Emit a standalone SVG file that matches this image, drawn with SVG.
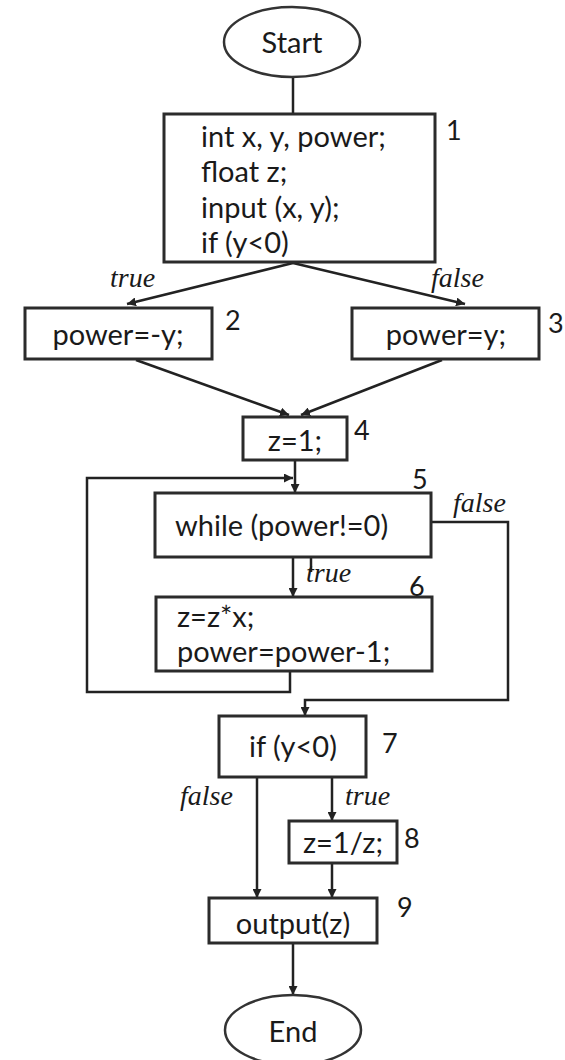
<svg xmlns="http://www.w3.org/2000/svg" width="565" height="1060" viewBox="0 0 565 1060">
<defs>
<marker id="ah" viewBox="0 0 10 10" refX="10" refY="5" markerWidth="9" markerHeight="9" markerUnits="userSpaceOnUse" orient="auto">
<path d="M0,0 L10,5 L0,10 Z" fill="#222"/>
</marker>
<style>
.box{fill:#fff;stroke:#2b2b2b;stroke-width:3}
.ell{fill:#fff;stroke:#333;stroke-width:2.5}
.t{font-family:Lato,"Open Sans",sans-serif;font-size:29px;fill:#1a1a1a}
.n{font-family:Lato,"Open Sans",sans-serif;font-size:27px;fill:#1a1a1a}
.lb{font-family:"Liberation Serif",serif;font-style:italic;font-size:28px;fill:#1a1a1a}
.c{fill:none;stroke:#222;stroke-width:2.5}
.ca{fill:none;stroke:#222;stroke-width:2.5;marker-end:url(#ah)}
</style>
</defs>
<rect width="565" height="1060" fill="#fff"/>
<g id="connectors">
<line class="c" x1="293" y1="77" x2="293" y2="114"/>
<line class="ca" x1="293" y1="263" x2="127" y2="304"/>
<line class="ca" x1="293" y1="263" x2="465" y2="304"/>
<line class="ca" x1="136" y1="360" x2="289" y2="415"/>
<line class="ca" x1="442" y1="360" x2="301" y2="415"/>
<line class="ca" x1="295" y1="460" x2="295" y2="493"/>
<polyline class="ca" points="290,671 290,692 87,692 87,478 293,478"/>
<line class="ca" x1="293" y1="557" x2="293" y2="597"/>
<line class="c" x1="311" y1="551" x2="311" y2="572"/>
<polyline class="ca" points="431,522 508,522 508,700 305,700 305,716"/>
<line class="ca" x1="257" y1="777" x2="257" y2="898"/>
<line class="ca" x1="332" y1="777" x2="332" y2="821"/>
<line class="ca" x1="332" y1="863" x2="332" y2="898"/>
<line class="ca" x1="293" y1="943" x2="293" y2="995"/>
</g>
<g id="start">
<ellipse class="ell" cx="292" cy="42" rx="68" ry="35"/>
<text class="t" x="292" y="53" text-anchor="middle">Start</text>
</g>
<g id="node1">
<rect class="box" x="164" y="114" width="271" height="148"/>
<text class="t" x="201" y="147">int x, y, power;</text>
<text class="t" x="201" y="182">float z;</text>
<text class="t" x="201" y="218">input (x, y);</text>
<text class="t" x="201" y="253">if (y&lt;0)</text>
<text class="n" x="446" y="140">1</text>
</g>
<g id="lbl-true1"><text class="lb" x="110" y="287">true</text></g>
<g id="lbl-false1"><text class="lb" x="431" y="287">false</text></g>
<g id="node2">
<rect class="box" x="25" y="308" width="187" height="51"/>
<text class="t" x="118" y="345" text-anchor="middle">power=-y;</text>
<text class="n" x="225" y="330">2</text>
</g>
<g id="node3">
<rect class="box" x="352" y="308" width="187" height="51"/>
<text class="t" x="446" y="345" text-anchor="middle">power=y;</text>
<text class="n" x="548" y="333">3</text>
</g>
<g id="node4">
<rect class="box" x="243" y="417" width="104" height="43"/>
<text class="t" x="295" y="451" text-anchor="middle">z=1;</text>
<text class="n" x="354" y="440">4</text>
</g>
<g id="node5">
<rect class="box" x="155" y="493" width="276" height="64"/>
<text class="t" x="175" y="536">while (power!=0)</text>
<text class="n" x="412" y="489">5</text>
</g>
<g id="lbl-false5"><text class="lb" x="453" y="512">false</text></g>
<g id="lbl-true5"><text class="lb" x="306" y="582">true</text></g>
<g id="node6">
<rect class="box" x="156" y="597" width="276" height="74"/>
<text class="t" x="177" y="627">z=z*x;</text>
<text class="t" x="177" y="662">power=power-1;</text>
<text class="n" x="409" y="596">6</text>
</g>
<g id="node7">
<rect class="box" x="219" y="716" width="147" height="61"/>
<text class="t" x="293" y="757" text-anchor="middle">if (y&lt;0)</text>
<text class="n" x="382" y="753">7</text>
</g>
<g id="lbl-false7"><text class="lb" x="180" y="805">false</text></g>
<g id="lbl-true7"><text class="lb" x="345" y="805">true</text></g>
<g id="node8">
<rect class="box" x="289" y="821" width="108" height="42"/>
<text class="t" x="343" y="853" text-anchor="middle">z=1/z;</text>
<text class="n" x="404" y="848">8</text>
</g>
<g id="node9">
<rect class="box" x="209" y="898" width="168" height="45"/>
<text class="t" x="293" y="934" text-anchor="middle">output(z)</text>
<text class="n" x="397" y="917">9</text>
</g>
<g id="end">
<ellipse class="ell" cx="293" cy="1030" rx="68" ry="35"/>
<text class="t" x="293" y="1042" text-anchor="middle">End</text>
</g>
</svg>
